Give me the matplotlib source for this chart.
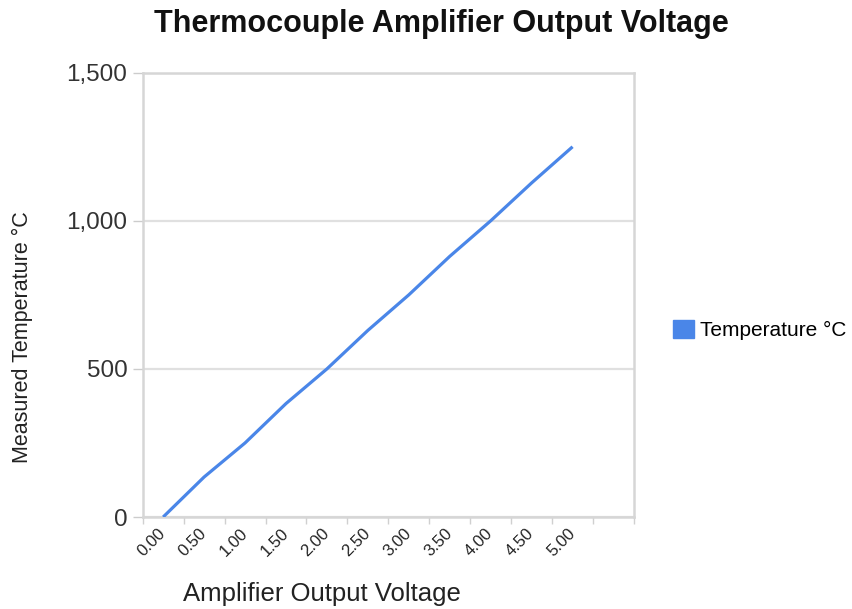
import matplotlib
matplotlib.use("Agg")
import matplotlib.pyplot as plt
import numpy as np
from matplotlib.patches import Patch

# ---- data ----
categories = ["0.00", "0.50", "1.00", "1.50", "2.00", "2.50", "3.00",
              "3.50", "4.00", "4.50", "5.00", ""]
temperature = [0, 135, 250, 383, 500, 630, 750, 880, 1000, 1128, 1250, np.nan]
y_ticks = [0, 500, 1000, 1500]
y_tick_labels = ["0", "500", "1,000", "1,500"]

title = "Thermocouple Amplifier Output Voltage"
x_label = "Amplifier Output Voltage"
y_label = "Measured Temperature °C"
series_name = "Temperature °C"

plt.rcParams['font.family'] = ['Liberation Sans', 'DejaVu Sans']

fig = plt.figure(figsize=(8.52, 6.09), dpi=100)
ax = fig.add_axes([142.7 / 852, 1 - 517 / 609, (634 - 142.7) / 852, (517 - 72.7) / 609])

x = np.arange(len(categories))
line_color = "#4a86e8"
ax.plot(x, temperature, color=line_color, lw=2.3, solid_capstyle="butt", zorder=3)

ax.set_xlim(-0.5, len(categories) - 0.5)
ax.set_ylim(0, 1500)

# x axis: labels at category centres, tick marks at boundaries
ax.set_xticks(x)
ax.set_xticklabels(categories, rotation=45, ha="right", va="center",
                   rotation_mode="anchor", fontsize=12, color="#222222")
ax.tick_params(axis="x", which="major", length=0, pad=10)
ax.set_xticks(np.arange(-0.5, len(categories)), minor=True)
ax.tick_params(axis="x", which="minor", length=5, width=1, color="#d0d0d0")

# y axis
ax.set_yticks(y_ticks)
ax.set_yticklabels(y_tick_labels, fontsize=17.5, color="#333333")
ax.tick_params(axis="y", length=7, width=1, color="#cccccc", pad=4)

ax.grid(axis="y", color="#e0e0e0", lw=1.6, zorder=0)
ax.set_axisbelow(True)
for s in ax.spines.values():
    s.set_color("#d6d6d6")
    s.set_linewidth(1.8)

fig.text(441 / 852, 1 - 24 / 609, title, ha="center", va="center",
         fontsize=22, fontweight="bold", color="#111111")
fig.text(322 / 852, 1 - 594 / 609, x_label, ha="center", va="center",
         fontsize=18.5, color="#222222")
fig.text(22 / 852, 1 - 337 / 609, y_label, ha="center", va="center",
         rotation=90, fontsize=15.5, color="#222222")

handles = [Patch(facecolor=line_color, edgecolor=line_color)]
fig.legend(handles, [series_name], loc="center left",
           bbox_to_anchor=(673 / 852, 1 - 330 / 609), frameon=False,
           fontsize=15, handlelength=1.0, handleheight=1.0, handletextpad=0.3,
           borderpad=0, borderaxespad=0)

fig.savefig("out.png", dpi=100)
